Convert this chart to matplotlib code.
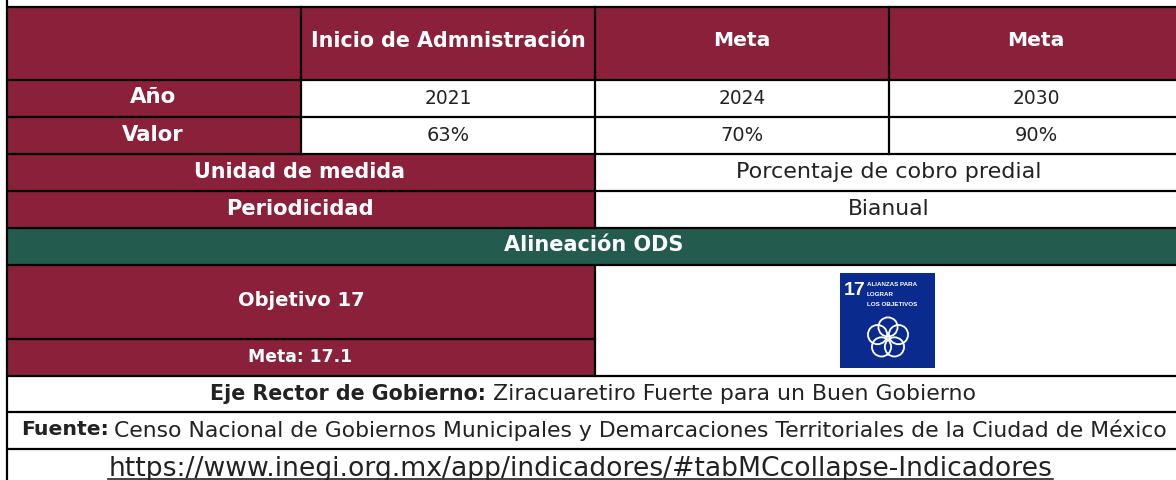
import numpy as np
import matplotlib
matplotlib.use("Agg")
import matplotlib.pyplot as plt
from matplotlib.patches import Rectangle, Circle

FONT = "DejaVu Sans"
MAROON = "#8A2039"
GREEN = "#235B4E"
BLUE = "#0B2A8E"

# table text
header_cols = ["Inicio de Admnistración", "Meta", "Meta"]
header_widths = [273, 57, 57]
years = ["2021", "2024", "2030"]
values = ["63%", "70%", "90%"]
unidad = "Porcentaje de cobro predial"
periodicidad = "Bianual"
eje_label = "Eje Rector de Gobierno:"
eje_text = "Ziracuaretiro Fuerte para un Buen Gobierno"
fuente_label = "Fuente:"
fuente_text = "Censo Nacional de Gobiernos Municipales y Demarcaciones Territoriales de la Ciudad de México"
url = "https://www.inegi.org.mx/app/indicadores/#tabMCcollapse-Indicadores"

# grid lines, in pixels
col_x = [7, 301, 595, 889, 1176]
row_y = [7.5, 80.5, 117.5, 154.5, 191.5, 228.5, 265.5, 339.5, 376.5, 412.5, 449.5, 481]

fig = plt.figure(figsize=(11.76, 4.81), dpi=100)
ax = fig.add_axes([0, 0, 1, 1])
ax.set_xlim(0, 1176)
ax.set_ylim(481, 0)
ax.axis("off")


def fill(x0, x1, y0, y1, color):
    ax.add_patch(Rectangle((x0, y0), x1 - x0, y1 - y0, fc=color, ec="none", zorder=1))


def label(x, y, s, color="#222222", size=13.0, bold=False, ha="center", width=None):
    t = ax.text(x, y, s, color=color, fontsize=size, ha=ha, va="center",
                fontweight="bold" if bold else "normal", family=FONT, zorder=4)
    # DejaVu runs at another width than the original font, so fit the strings
    if width:
        w = t.get_window_extent(fig.canvas.get_renderer()).width
        t.set_fontsize(size * width / w)
    return t


# coloured cells
fill(col_x[0], col_x[-1], row_y[0], row_y[1], MAROON)
fill(col_x[0], col_x[1], row_y[1], row_y[3], MAROON)
fill(col_x[0], col_x[2], row_y[3], row_y[5], MAROON)
fill(col_x[0], col_x[-1], row_y[5], row_y[6], GREEN)
fill(col_x[0], col_x[2], row_y[6], row_y[8], MAROON)

# borders
for y in [row_y[0], row_y[1], row_y[2], row_y[3], row_y[4], row_y[5], row_y[6], row_y[8], row_y[9], row_y[10]]:
    ax.plot([col_x[0], col_x[-1]], [y, y], color="black", lw=1.6, zorder=3, solid_capstyle="butt")
ax.plot([col_x[0], col_x[2]], [row_y[7], row_y[7]], color="black", lw=1.6, zorder=3)
ax.plot([col_x[0], col_x[0]], [0, 481], color="black", lw=1.6, zorder=3)
for x in col_x[1:4]:
    ax.plot([x, x], [row_y[0], row_y[3]], color="black", lw=1.6, zorder=3)
ax.plot([col_x[2], col_x[2]], [row_y[3], row_y[5]], color="black", lw=1.6, zorder=3)
ax.plot([col_x[2], col_x[2]], [row_y[6], row_y[8]], color="black", lw=1.6, zorder=3)

# first rows
centers = [448, 742, 1036]
for cx, h, hw, yr, val in zip(centers, header_cols, header_widths, years, values):
    label(cx, 41, h, color="white", bold=True, width=hw)
    label(cx, 99, yr, width=47)
    label(cx, 136, val, width=43)
label(153, 97, "Año", color="white", bold=True, width=46)
label(153, 135, "Valor", color="white", bold=True, width=61)

label(300, 172, "Unidad de medida", color="white", bold=True, width=209)
label(300, 209, "Periodicidad", color="white", bold=True, width=146)
label(889, 172, unidad, width=305)
label(889, 209, periodicidad, width=82)
label(594, 245, "Alineación ODS", color="white", bold=True, width=178)
label(301, 301, "Objetivo 17", color="white", bold=True, width=126)
label(300, 357, "Meta: 17.1", color="white", bold=True, width=104)

# ODS 17 logo
ax.add_patch(Rectangle((840, 273.5), 95, 95, fc=BLUE, ec="none", zorder=2))
ax.text(844, 291, "17", color="white", fontsize=14, fontweight="bold", family="Liberation Sans",
        va="center", ha="left", zorder=4)
for i, s in enumerate(["ALIANZAS PARA", "LOGRAR", "LOS OBJETIVOS"]):
    ax.text(867, 284.5 + i * 10, s, color="white", fontsize=4.5, fontweight="bold",
            family="Liberation Sans", va="center", ha="left", zorder=4)
for a in np.deg2rad(np.arange(5) * 72 - 90):
    ax.add_patch(Circle((888 + 11 * np.cos(a), 339 + 11 * np.sin(a)), 9.6,
                        fc="none", ec="white", lw=1.3, zorder=4))

# footer rows
label(210, 394, eje_label, bold=True, ha="left", width=274)
label(493, 394, eje_text, ha="left", width=483)
label(21, 430, fuente_label, bold=True, ha="left", width=87)
label(114, 430, fuente_text, ha="left", width=1051)
label(580.5, 469, url, width=945)
ax.plot([108, 1053], [480, 480], color="#222222", lw=1.2, zorder=4)

fig.savefig("out.png", dpi=100)
